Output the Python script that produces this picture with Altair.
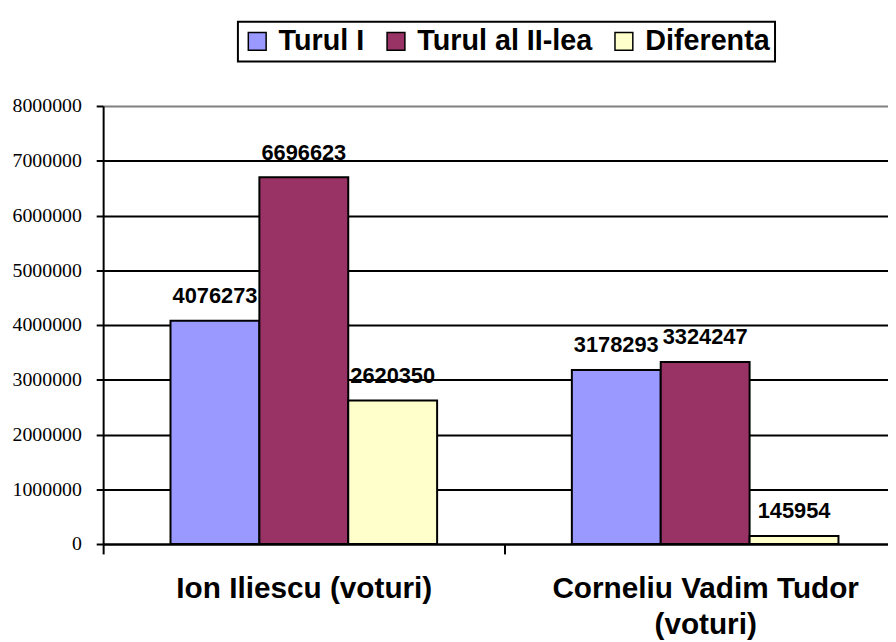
import altair as alt
import pandas as pd

candidates = ["Ion Iliescu (voturi)", "Corneliu Vadim Tudor (voturi)"]
series = ["Turul I", "Turul al II-lea", "Diferenta"]
turul_1 = [4076273, 3178293]
turul_2 = [6696623, 3324247]
diferenta = [2620350, 145954]
colors = ["#9999FF", "#993366", "#FFFFCC"]
y_ticks = [0, 1000000, 2000000, 3000000, 4000000, 5000000, 6000000, 7000000, 8000000]

rows = []
for i, c in enumerate(candidates):
    for s, vals in zip(series, [turul_1, turul_2, diferenta]):
        rows.append({"Candidat": c, "Serie": s, "Voturi": vals[i]})
df = pd.DataFrame(rows)

x_enc = alt.X(
    "Candidat:N",
    sort=candidates,
    scale=alt.Scale(paddingInner=0, paddingOuter=0, range=[0, 810]),
    axis=alt.Axis(
        title=None,
        tickBand="extent",
        labelExpr="datum.label == 'Corneliu Vadim Tudor (voturi)' ? ['Corneliu Vadim Tudor', '(voturi)'] : datum.label",
        labelFont="Liberation Sans",
        labelFontWeight="bold",
        labelFontSize=30,
        labelColor="black",
        labelAngle=0,
        labelLimit=0,
        labelLineHeight=36,
        labelPadding=20,
        tickSize=10,
        tickWidth=2,
        tickColor="black",
        domainColor="black",
        domainWidth=2,
        grid=False,
    ),
)

xoff_enc = alt.XOffset(
    "Serie:N", sort=series, scale=alt.Scale(paddingInner=0, paddingOuter=0.758)
)

y_enc = alt.Y(
    "Voturi:Q",
    scale=alt.Scale(domain=[0, 8000000], nice=False),
    axis=alt.Axis(
        title=None,
        values=y_ticks,
        format="d",
        labelFont="Liberation Serif",
        labelFontSize=20,
        labelColor="black",
        labelPadding=15,
        tickSize=7,
        tickWidth=2,
        tickColor="black",
        domainColor="black",
        domainWidth=2,
        grid=True,
        gridColor={"condition": {"test": "datum.value == 8000000", "value": "#808080"}, "value": "black"},
        gridWidth=2,
        gridOpacity=1,
    ),
)

bars = alt.Chart(df).mark_bar(stroke="black", strokeWidth=2).encode(
    x=x_enc,
    xOffset=xoff_enc,
    y=y_enc,
    color=alt.Color(
        "Serie:N",
        sort=series,
        scale=alt.Scale(domain=series, range=colors),
        legend=alt.Legend(
            title=None,
            orient="none",
            legendX=136,
            legendY=-85,
            direction="horizontal",
            symbolType="square",
            symbolSize=324,
            symbolStrokeColor="black",
            symbolStrokeWidth=1.5,
            symbolOpacity=1,
            labelFont="Liberation Sans",
            labelFontWeight="bold",
            labelFontSize=29,
            labelColor="black",
            labelOffset=7,
            labelLimit=0,
            columnPadding=17,
            padding=5,
            strokeColor="black",
            fillColor="white",
        ),
    ),
)

labels = alt.Chart(df).mark_text(
    font="Liberation Sans",
    fontWeight="bold",
    fontSize=22,
    baseline="alphabetic",
    align="center",
    dy=-18,
    color="black",
).encode(
    x=x_enc,
    xOffset=xoff_enc,
    y=y_enc,
    text=alt.Text("Voturi:Q", format="d"),
)

chart = (
    alt.layer(bars, labels)
    .properties(
        width=792,
        height=442,
        autosize=alt.AutoSizeParams(type="none"),
        padding={"left": 96, "top": 96, "right": 0, "bottom": 96},
        background="white",
    )
    .configure_view(strokeWidth=0)
    .configure_legend(strokeWidth=2)
)

chart.save("out.html", embed_options={"renderer": "svg", "actions": False})
